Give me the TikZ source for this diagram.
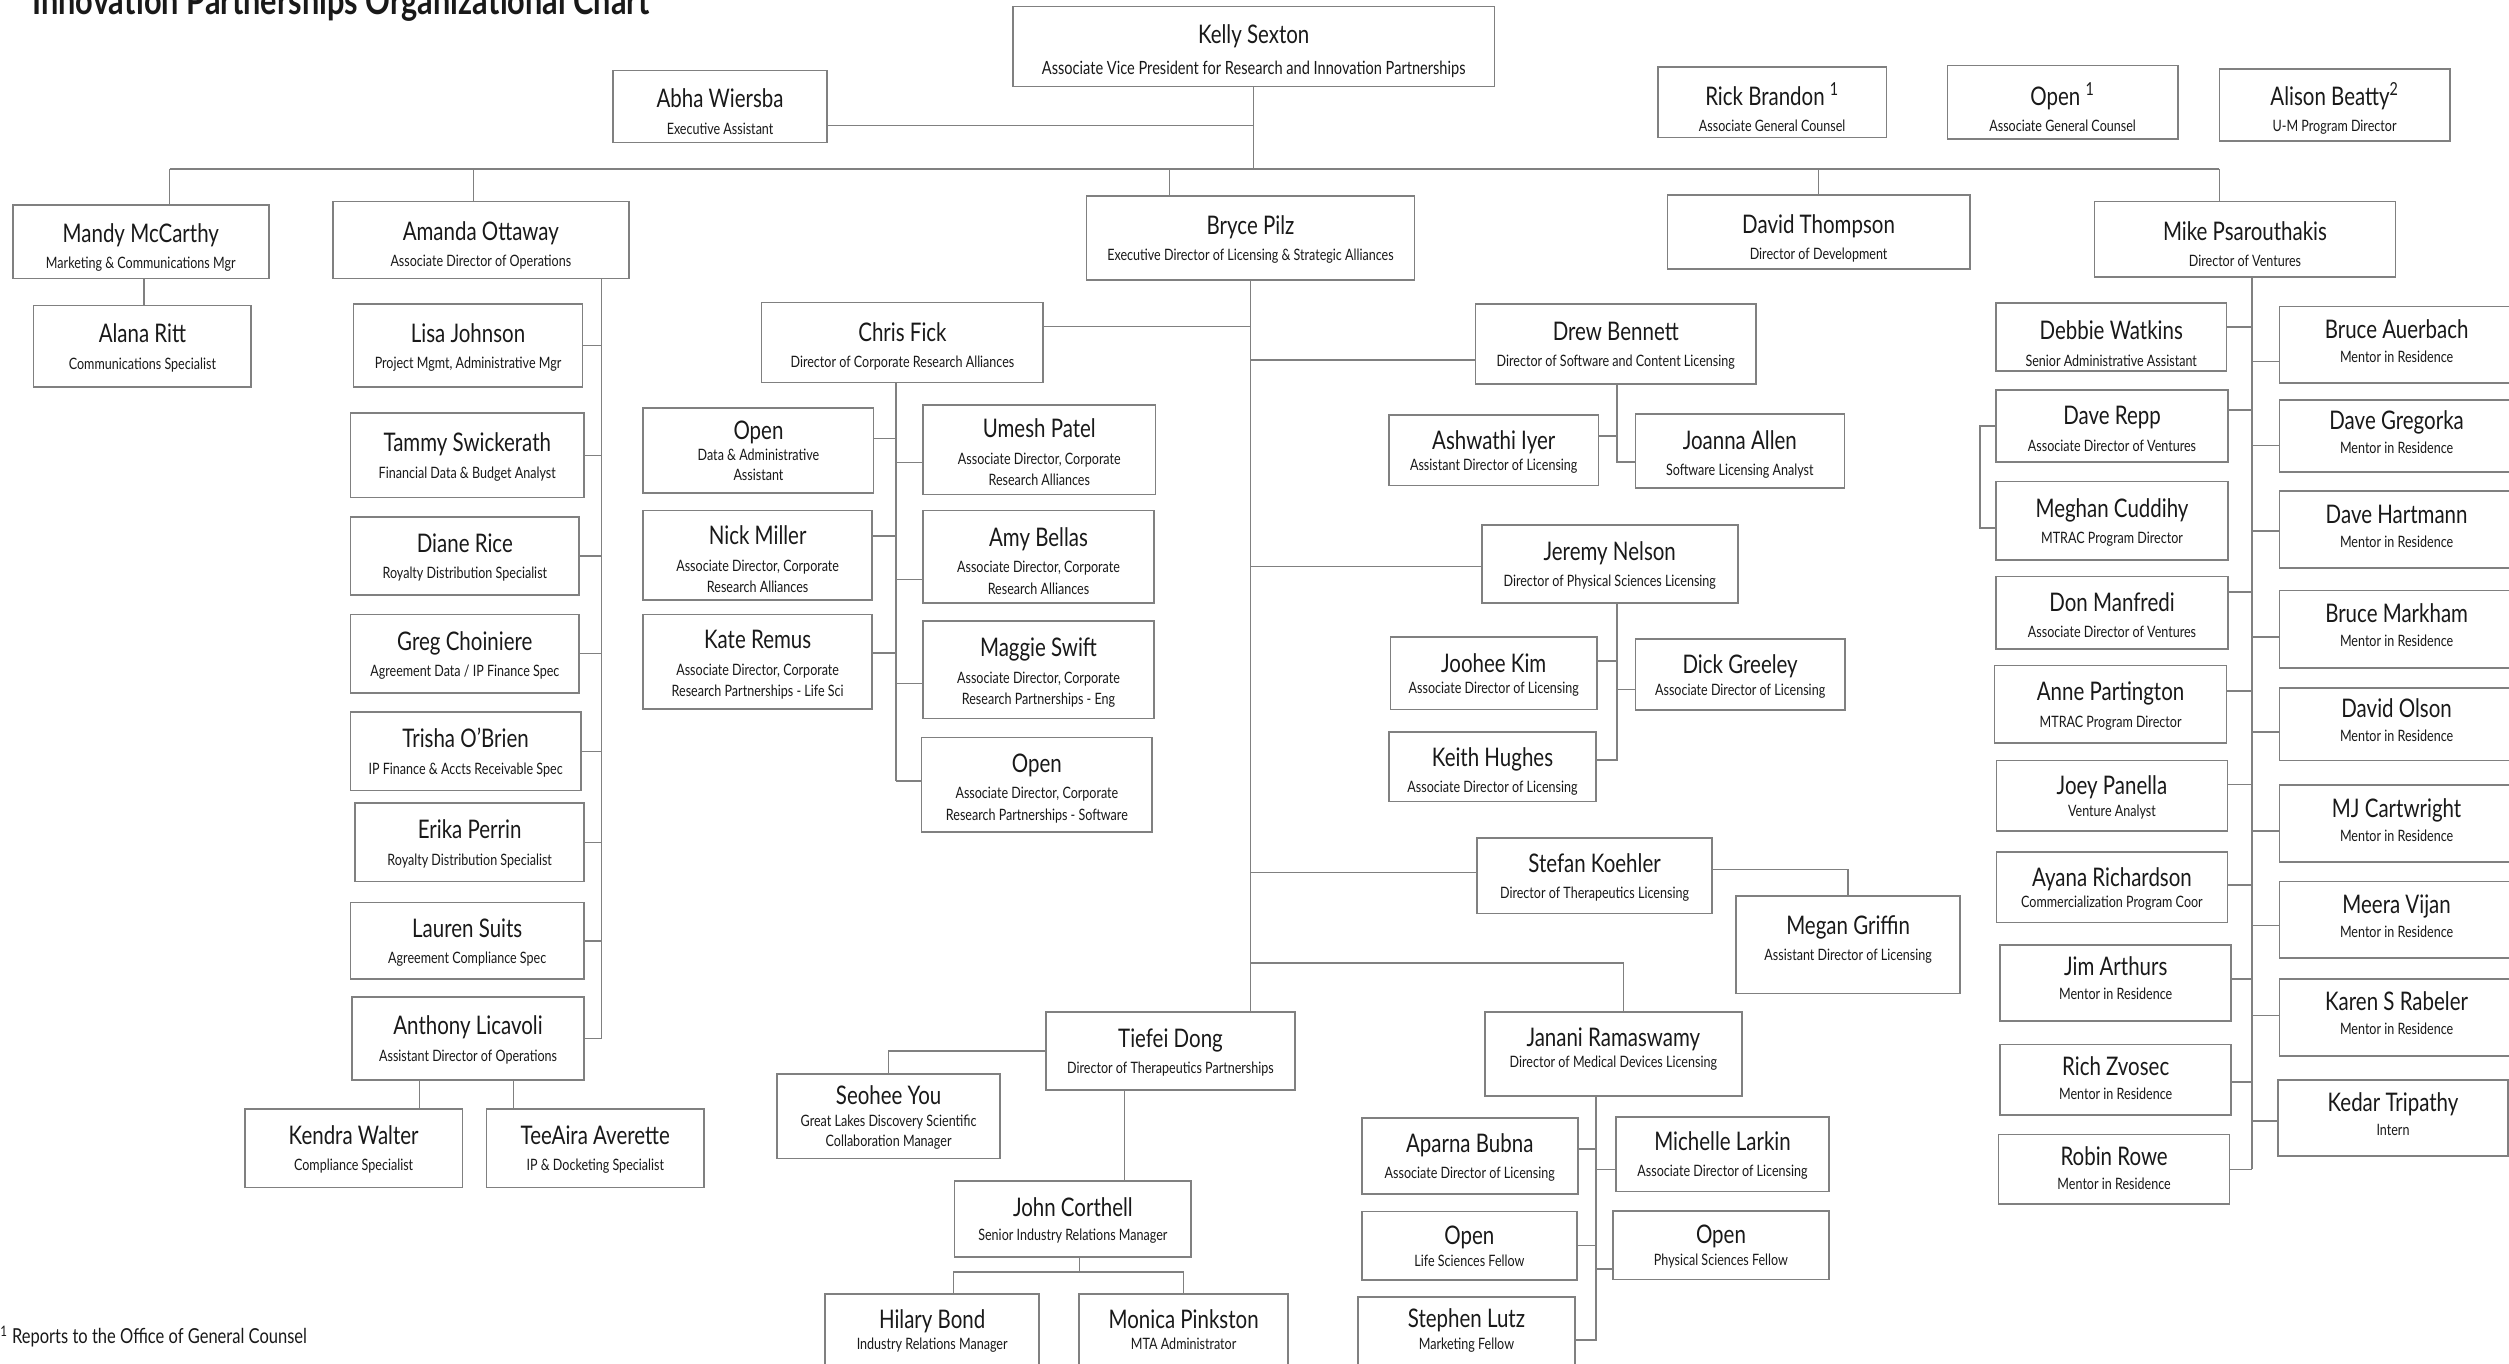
\documentclass[tikz,border=0pt]{standalone}
\usepackage{fontspec}
\setmainfont{Lato}[FakeStretch=0.8]
\definecolor{lg}{RGB}{128,128,128}
\definecolor{tx}{RGB}{25,25,25}
\def\nmsz{16}
\def\nmgap{4pt}
\def\nmtop{15pt}
\def\nmbot{3pt}
\newcommand\nmf{\fontsize{\nmsz}{\nmsz}\selectfont}
\tikzset{
 box/.style={draw=lg, line width=1pt, fill=white, inner sep=0pt, outer sep=0pt, align=center, text=tx, font=\fontsize{9.8}{12.5}\selectfont},
 conn/.style={draw=lg, line width=0.9pt},
 lgap/.code={\def\nmgap{#1}},
 tdn/.code={\def\nmtop{\dimexpr15pt+#1pt*2\relax}},
 tup/.code={\def\nmbot{\dimexpr3pt+#1pt*2\relax}},
 sbK/.style={font=\fontsize{11.4}{14}\selectfont},
 two/.style={font=\fontsize{9.8}{13.5}\selectfont, lgap=3pt},
 rc/.style={lgap=2.5pt, tup=2.5},
}
\newcommand\bx[8][]{\node[box,minimum width={#5-#3},minimum height={#6-#4},#1] (#2) at ({(#3+#5)/2},{-(#4+#6)/2}) {{\nmf\rule{0pt}{\nmtop}#7}\\[\nmgap]#8\rule[-\nmbot]{0pt}{\nmbot}};}
\begin{document}
\begin{tikzpicture}[x=1pt,y=1pt]
\useasboundingbox (0,0) rectangle (1568,-852);
% title and note
\node[anchor=base west, inner sep=0pt, text=tx, font=\fontsize{24}{24}\selectfont\bfseries] (title) at (20,-8.8) {Innovation Partnerships Organizational Chart};
\node[anchor=base west, inner sep=0pt, text=tx, font=\fontsize{12.9}{13}\selectfont] (note) at (0,-839.4) {\textsuperscript{1} Reports to the Office of General Counsel};
% top
\bx[sbK,lgap=5.5pt,tdn=2]{kelly}{633}{4}{934}{54}{Kelly Sexton}{Associate Vice President for Research and Innovation Partnerships}
\bx[tdn=3]{abha}{383}{44}{517}{89}{Abha Wiersba}{Executive Assistant}
\bx[tdn=4]{rick}{1036}{42}{1179}{86}{Rick Brandon \textsuperscript{1}}{Associate General Counsel}
\bx[tdn=4]{openA}{1217}{41}{1361}{87}{Open \textsuperscript{1}}{Associate General Counsel}
\bx[tdn=2.5]{alison}{1387}{43}{1531}{88}{Alison Beatty\textsuperscript{2}}{U-M Program Director}
% level 2
\bx[tdn=2.5]{mandy}{8}{128}{168}{174}{Mandy McCarthy}{Marketing \& Communications Mgr}
\bx[tdn=2.5]{amanda}{208}{126}{393}{174}{Amanda Ottaway}{Associate Director of Operations}
\bx{bryce}{679}{122.5}{884}{175}{Bryce Pilz}{Executive Director of Licensing \& Strategic Alliances}
\bx[tdn=3]{david}{1042}{122}{1231}{168}{David Thompson}{Director of Development}
\bx[tdn=3]{mike}{1309}{126}{1497}{173}{Mike Psarouthakis}{Director of Ventures}
% left
\bx{alana}{21}{191}{157}{242}{Alana Ritt}{Communications Specialist}
\bx{lisa}{221}{190}{364}{242}{Lisa Johnson}{Project Mgmt, Administrative Mgr}
\bx{tammy}{219}{258}{365}{311}{Tammy Swickerath}{Financial Data \& Budget Analyst}
\bx{diane}{219}{323}{362}{372}{Diane Rice}{Royalty Distribution Specialist}
\bx{greg}{219}{384}{362}{433}{Greg Choiniere}{Agreement Data / IP Finance Spec}
\bx{trisha}{219}{445}{363}{494}{Trisha O’Brien}{IP Finance \& Accts Receivable Spec}
\bx{erika}{222}{502}{365}{551}{Erika Perrin}{Royalty Distribution Specialist}
\bx{lauren}{219}{564}{365}{612}{Lauren Suits}{Agreement Compliance Spec}
\bx{anthony}{220}{623}{365}{675}{Anthony Licavoli}{Assistant Director of Operations}
\bx{kendra}{153}{693}{289}{742}{Kendra Walter}{Compliance Specialist}
\bx{teeaira}{304}{693}{440}{742}{TeeAira Averette}{IP \& Docketing Specialist}
% chris group
\bx[tdn=1.5]{chris}{476}{189}{652}{239}{Chris Fick}{Director of Corporate Research Alliances}
\bx[lgap=1pt]{openDA}{402}{255}{546}{308}{Open}{Data \& Administrative\\Assistant}
\bx[two,tdn=1.5]{umesh}{577}{253}{722}{309}{Umesh Patel}{Associate Director, Corporate\\Research Alliances}
\bx[two,tdn=2.5]{nick}{402}{319}{545}{375}{Nick Miller}{Associate Director, Corporate\\Research Alliances}
\bx[two,tdn=2.5]{amy}{577}{319}{721}{377}{Amy Bellas}{Associate Director, Corporate\\Research Alliances}
\bx[two,tdn=1]{kate}{402}{384}{545}{443}{Kate Remus}{Associate Director, Corporate\\Research Partnerships - Life Sci}
\bx[two,tdn=1]{maggie}{577}{388}{721}{449}{Maggie Swift}{Associate Director, Corporate\\Research Partnerships - Eng}
\bx[two,tdn=1]{openSW}{576}{461}{720}{520}{Open}{Associate Director, Corporate\\Research Partnerships - Software}
% drew / jeremy / stefan
\bx{drew}{922}{190}{1097.5}{240}{Drew Bennett}{Director of Software and Content Licensing}
\bx[lgap=1pt]{ashwathi}{868}{259.4}{999}{303.4}{Ashwathi Iyer}{Assistant Director of Licensing}
\bx[tdn=1]{joanna}{1022}{258.8}{1152.6}{304.9}{Joanna Allen}{Software Licensing Analyst}
\bx{jeremy}{926}{328}{1086}{377}{Jeremy Nelson}{Director of Physical Sciences Licensing}
\bx[lgap=1pt]{joohee}{869}{398}{998}{443.5}{Joohee Kim}{Associate Director of Licensing}
\bx[lgap=1pt]{dick}{1022}{399.4}{1153}{443.8}{Dick Greeley}{Associate Director of Licensing}
\bx[tdn=2]{keith}{868}{457.5}{997.5}{501}{Keith Hughes}{Associate Director of Licensing}
\bx{stefan}{923}{523.8}{1070}{571}{Stefan Koehler}{Director of Therapeutics Licensing}
\bx[tup=4.5]{megan}{1085}{560}{1225}{621}{Megan Griffin}{Assistant Director of Licensing}
% tiefei group
\bx{tiefei}{653.6}{632.3}{809.4}{681.3}{Tiefei Dong}{Director of Therapeutics Partnerships}
\bx[lgap=1pt]{seohee}{485.7}{671}{625}{724}{Seohee You}{Great Lakes Discovery Scientific\\Collaboration Manager}
\bx[lgap=2pt]{john}{596.6}{737.9}{744.4}{785.6}{John Corthell}{Senior Industry Relations Manager}
\bx[text depth=22pt,lgap=1pt]{hilary}{515.7}{808.8}{649.4}{872}{Hilary Bond}{Industry Relations Manager}
\bx[text depth=22pt,lgap=1pt]{monica}{674.4}{808.8}{805}{872}{Monica Pinkston}{MTA Administrator}
% janani group
\bx[lgap=1pt,tup=4]{janani}{928}{632.3}{1088.5}{684.8}{Janani Ramaswamy}{Director of Medical Devices Licensing}
\bx{aparna}{851}{698.8}{986}{746.3}{Aparna Bubna}{Associate Director of Licensing}
\bx{michelle}{1010}{698}{1143}{744.5}{Michelle Larkin}{Associate Director of Licensing}
\bx[lgap=1pt]{openLS}{851}{757}{985.6}{800}{Open}{Life Sciences Fellow}
\bx[lgap=1pt]{openPS}{1008}{756.7}{1143}{799.5}{Open}{Physical Sciences Fellow}
\bx[text depth=17pt,lgap=1pt]{stephen}{848.5}{810.6}{984.4}{864}{Stephen Lutz}{Marketing Fellow}
% mike group left
\bx[tdn=4]{debbie}{1247.3}{189.4}{1391.5}{231.8}{Debbie Watkins}{Senior Administrative Assistant}
\bx[tdn=1.5]{daverepp}{1247.3}{243.6}{1392.5}{288.7}{Dave Repp}{Associate Director of Ventures}
\bx{meghan}{1247.3}{301}{1392.5}{350}{Meghan Cuddihy}{MTRAC Program Director}
\bx[tdn=1.5]{don}{1247.3}{360.2}{1392.5}{405.6}{Don Manfredi}{Associate Director of Ventures}
\bx{anne}{1246.5}{416}{1391.5}{464.4}{Anne Partington}{MTRAC Program Director}
\bx[lgap=1pt]{joey}{1247.7}{475.3}{1392}{519.4}{Joey Panella}{Venture Analyst}
\bx[lgap=1pt]{ayana}{1247.7}{532.5}{1392}{576.6}{Ayana Richardson}{Commercialization Program Coor}
\bx[lgap=2.5pt,tup=3]{jim}{1250}{590.5}{1394.4}{638}{Jim Arthurs}{Mentor in Residence}
\bx[lgap=2.5pt,tup=1]{rich}{1250}{652.8}{1394.4}{696.9}{Rich Zvosec}{Mentor in Residence}
\bx[lgap=2.5pt,tup=1]{robin}{1249}{709}{1393.4}{752.5}{Robin Rowe}{Mentor in Residence}
% mike group right
\bx[rc]{bruceA}{1424.5}{191.5}{1571}{239.2}{Bruce Auerbach}{Mentor in Residence}
\bx[rc]{gregorka}{1424.5}{249.8}{1571}{295}{Dave Gregorka}{Mentor in Residence}
\bx[rc]{hartmann}{1424.5}{306.7}{1571}{355}{Dave Hartmann}{Mentor in Residence}
\bx[rc]{markham}{1424.5}{369}{1571}{417.4}{Bruce Markham}{Mentor in Residence}
\bx[rc]{olson}{1424.5}{429.9}{1571}{475.3}{David Olson}{Mentor in Residence}
\bx[rc]{mj}{1424.5}{490.4}{1571}{538.8}{MJ Cartwright}{Mentor in Residence}
\bx[rc]{meera}{1424.5}{550.9}{1571}{598.6}{Meera Vijan}{Mentor in Residence}
\bx[rc]{karen}{1424.5}{611.7}{1571}{659.8}{Karen S Rabeler}{Mentor in Residence}
\bx[rc]{kedar}{1423.5}{674.8}{1567.5}{722.5}{Kedar Tripathy}{Intern}
% ---------- connectors ----------
\coordinate (bL) at (106,-105.5);
\coordinate (bR) at (1387,-105.5);
\coordinate (bA) at (296,-105.5);
\coordinate (bB) at (731,-105.5);
\draw[conn] (kelly.south) -- (kelly.south |- bL);
\draw[conn] ([yshift=-12pt]abha.east) -- ([yshift=-12pt]abha.east -| kelly.south);
\draw[conn] (bL) -- (bR);
\draw[conn] (bL) -- (bL |- mandy.north);
\draw[conn] (bA) -- (bA |- amanda.north);
\draw[conn] (bB) -- (bB |- bryce.north);
\draw[conn] (david.north |- bL) -- (david.north);
\draw[conn] (bR) -- (bR |- mike.north);
\draw[conn] ([xshift=2pt]mandy.south) -- ([xshift=2pt]mandy.south |- alana.north);
% amanda
\coordinate (aT) at (376,-174);
\draw[conn] (aT) -- (aT |- anthony.east);
\foreach \c in {lisa,tammy,diane,greg,trisha,erika,lauren,anthony}
  \draw[conn] (\c.east) -- (\c.east -| aT);
\draw[conn] ([xshift=-30.5pt]anthony.south) -- ([xshift=-30.5pt]anthony.south |- kendra.north);
\draw[conn] ([xshift=28.5pt]anthony.south) -- ([xshift=28.5pt]anthony.south |- teeaira.north);
% bryce
\draw[conn] (bryce.south) -- (bryce.south |- tiefei.north);
\draw[conn] ([yshift=10pt]chris.east) -- ([yshift=10pt]chris.east -| bryce.south);
\draw[conn] ([yshift=-10pt]drew.west) -- ([yshift=-10pt]drew.west -| bryce.south);
\draw[conn] ([yshift=-1.5pt]jeremy.west) -- ([yshift=-1.5pt]jeremy.west -| bryce.south);
\draw[conn] ([yshift=2pt]stefan.west) -- ([yshift=2pt]stefan.west -| bryce.south);
\coordinate (jD) at (1014.6,-601.7);
\draw[conn] (jD -| bryce.south) -- (jD) -- (jD |- janani.north);
% chris
\coordinate (cT) at (560,-239);
\draw[conn] (cT) -- ([yshift=2.5pt]openSW.west -| cT);
\draw[conn] ([yshift=7.5pt]openDA.east) -- ([yshift=7.5pt]openDA.east -| cT);
\draw[conn] ([yshift=-8pt]umesh.west) -- ([yshift=-8pt]umesh.west -| cT);
\draw[conn] ([yshift=12pt]nick.east) -- ([yshift=12pt]nick.east -| cT);
\draw[conn] ([yshift=-14pt]amy.west) -- ([yshift=-14pt]amy.west -| cT);
\draw[conn] ([yshift=5.5pt]kate.east) -- ([yshift=5.5pt]kate.east -| cT);
\draw[conn] ([yshift=-8.5pt]maggie.west) -- ([yshift=-8.5pt]maggie.west -| cT);
\draw[conn] ([yshift=2.5pt]openSW.west) -- ([yshift=2.5pt]openSW.west -| cT);
% drew
\coordinate (dT) at (1010.6,-240);
\draw[conn] (dT) -- ([yshift=-6.8pt]joanna.west -| dT) -- ([yshift=-6.8pt]joanna.west);
\draw[conn] ([yshift=8.8pt]ashwathi.east) -- ([yshift=8.8pt]ashwathi.east -| dT);
% jeremy
\coordinate (jT) at (1010.6,-377);
\draw[conn] (jT) -- ([yshift=4.25pt]keith.east -| jT) -- ([yshift=4.25pt]keith.east);
\draw[conn] ([yshift=7.75pt]joohee.east) -- ([yshift=7.75pt]joohee.east -| jT);
\draw[conn] ([yshift=-9.4pt]dick.west) -- ([yshift=-9.4pt]dick.west -| jT);
% stefan
\draw[conn] ([yshift=4pt]stefan.east) -| (megan.north);
% tiefei
\draw[conn] (tiefei.west) -| (seohee.north);
\coordinate (tJ) at (702.6,-681.3);
\draw[conn] (tJ) -- (tJ |- john.north);
\coordinate (jH) at (596,-795);
\coordinate (jM) at (739.6,-795);
\draw[conn] ([xshift=4pt]john.south) -- ([xshift=4pt]john.south |- jH);
\draw[conn] (jH |- hilary.north) -- (jH) -- (jM) -- (jM |- monica.north);
% janani
\coordinate (nT) at (997.3,-684.8);
\draw[conn] (nT) -- (stephen.east -| nT) -- (stephen.east);
\draw[conn] ([yshift=4.5pt]aparna.east) -- ([yshift=4.5pt]aparna.east -| nT);
\draw[conn] ([yshift=-9.75pt]michelle.west) -- ([yshift=-9.75pt]michelle.west -| nT);
\draw[conn] (openLS.east) -- (openLS.east -| nT);
\draw[conn] ([yshift=-15pt]openPS.west) -- ([yshift=-15pt]openPS.west -| nT);
% mike
\coordinate (mT) at (1407.4,-173);
\draw[conn] (mT) -- (robin.east -| mT);
\draw[conn] ([yshift=6.2pt]debbie.east) -- ([yshift=6.2pt]debbie.east -| mT);
\draw[conn] ([yshift=9.9pt]daverepp.east) -- ([yshift=9.9pt]daverepp.east -| mT);
\draw[conn] ([yshift=13pt]don.east) -- ([yshift=13pt]don.east -| mT);
\draw[conn] ([yshift=8.5pt]anne.east) -- ([yshift=8.5pt]anne.east -| mT);
\draw[conn] ([yshift=7pt]joey.east) -- ([yshift=7pt]joey.east -| mT);
\draw[conn] ([yshift=1.5pt]ayana.east) -- ([yshift=1.5pt]ayana.east -| mT);
\draw[conn] ([yshift=2.3pt]jim.east) -- ([yshift=2.3pt]jim.east -| mT);
\draw[conn] ([yshift=-1.4pt]rich.east) -- ([yshift=-1.4pt]rich.east -| mT);
\draw[conn] (robin.east) -- (robin.east -| mT);
\draw[conn] ([yshift=-10.6pt]bruceA.west) -- ([yshift=-10.6pt]bruceA.west -| mT);
\draw[conn] ([yshift=-6pt]gregorka.west) -- ([yshift=-6pt]gregorka.west -| mT);
\draw[conn] ([yshift=-1pt]hartmann.west) -- ([yshift=-1pt]hartmann.west -| mT);
\draw[conn] ([yshift=-4.8pt]markham.west) -- ([yshift=-4.8pt]markham.west -| mT);
\draw[conn] ([yshift=-4.8pt]olson.west) -- ([yshift=-4.8pt]olson.west -| mT);
\draw[conn] ([yshift=-4.8pt]mj.west) -- ([yshift=-4.8pt]mj.west -| mT);
\draw[conn] ([yshift=-3.6pt]meera.west) -- ([yshift=-3.6pt]meera.west -| mT);
\draw[conn] ([yshift=1pt]karen.west) -- ([yshift=1pt]karen.west -| mT);
\draw[conn] ([yshift=-2pt]kedar.west) -- ([yshift=-2pt]kedar.west -| mT);
\draw[conn] (daverepp.west) -- ++(-10,0) |- ([yshift=-4.5pt]meghan.west);
\end{tikzpicture}
\end{document}
